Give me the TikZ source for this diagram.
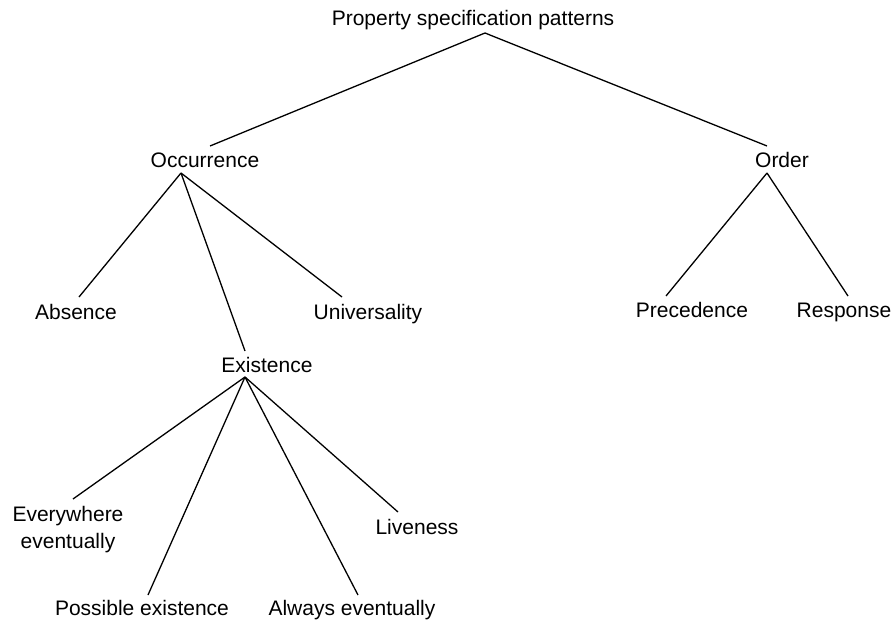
\documentclass[tikz,border=0pt]{standalone}
\usepackage{fontspec}
\setmainfont{Liberation Sans}
\begin{document}
\begin{tikzpicture}[x=1pt,y=-1pt,
  label/.style={inner sep=0pt,anchor=base,font=\fontsize{21}{27}\selectfont,align=center},
  edge/.style={line width=1.3pt,black}]
\useasboundingbox (0,0) rectangle (895,623);

% labels
\node[label] (root) at (473,26) {Property specification patterns};
\node[label] (occ) at (205,168) {Occurrence};
\node[label] (ord) at (782,168) {Order};
\node[label] (abs) at (76,319) {Absence};
\node[label] (uni) at (368,319) {Universality};
\node[label] (ext) at (267,372) {Existence};
\node[label] (pre) at (692,317) {Precedence};
\node[label] (res) at (844,317) {Response};
\node[label,anchor=north] (evr) at (68,506) {Everywhere\\eventually};
\node[label] (liv) at (417,534) {Liveness};
\node[label] (pos) at (142,615) {Possible existence};
\node[label] (alw) at (352,615) {Always eventually};

% connector end points
\coordinate (root-b) at (485,33);
\coordinate (occ-t) at (210,146);
\coordinate (occ-b) at (181,173);
\coordinate (ord-t) at (767,146);
\coordinate (ord-b) at (767,173);
\coordinate (abs-t) at (79,297);
\coordinate (uni-t) at (342,297);
\coordinate (ext-t) at (245,351);
\coordinate (ext-b) at (245,377);
\coordinate (pre-t) at (666,296);
\coordinate (res-t) at (848,296);
\coordinate (evr-t) at (73,499);
\coordinate (pos-t) at (148,595);
\coordinate (alw-t) at (358,595);
\coordinate (liv-t) at (398,512);

% tree edges
\draw[edge] (root-b) -- (occ-t);
\draw[edge] (root-b) -- (ord-t);
\draw[edge] (occ-b) -- (abs-t);
\draw[edge] (occ-b) -- (ext-t);
\draw[edge] (occ-b) -- (uni-t);
\draw[edge] (ord-b) -- (pre-t);
\draw[edge] (ord-b) -- (res-t);
\draw[edge] (ext-b) -- (evr-t);
\draw[edge] (ext-b) -- (pos-t);
\draw[edge] (ext-b) -- (alw-t);
\draw[edge] (ext-b) -- (liv-t);
\end{tikzpicture}
\end{document}
